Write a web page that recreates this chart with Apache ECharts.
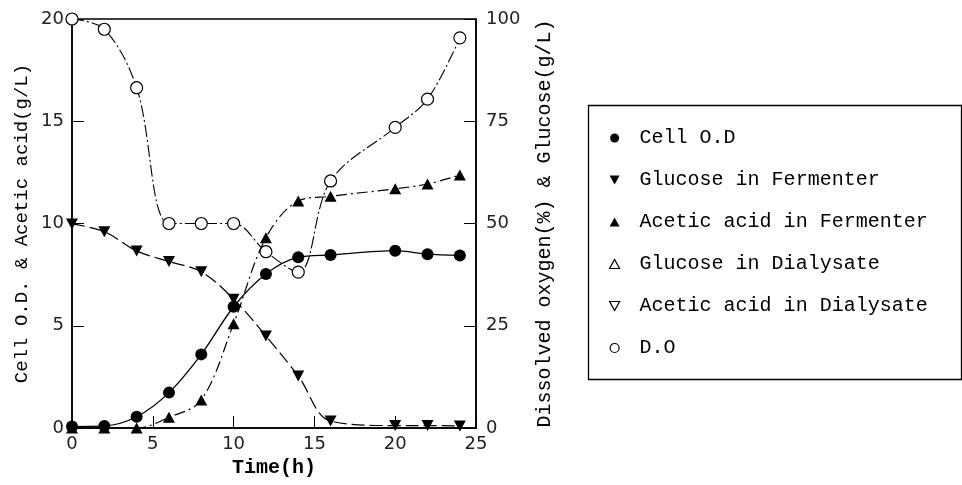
<!DOCTYPE html>
<html>
<head>
<meta charset="utf-8">
<script src="https://cdn.jsdelivr.net/npm/echarts@6/dist/echarts.min.js"></script>
<style>
  html, body { margin: 0; padding: 0; background: #fff; }
  #chart { width: 962px; height: 485px; }
</style>
</head>
<body>
<div id="chart"></div>
<script>
// 时间 (h)
var timeH = [0, 2, 4, 6, 8, 10, 12, 14, 16, 20, 22, 24];
// Cell O.D  (左轴)
var cellOD = [0.07, 0.1, 0.55, 1.73, 3.6, 5.93, 7.53, 8.35, 8.46, 8.67, 8.5, 8.44];
// Glucose in Fermenter g/L (右轴)
var glucoseF = [49.9, 48, 43.3, 40.7, 38.2, 31.5, 22.5, 12.7, 1.7, 0.6, 0.6, 0.5];
// Acetic acid in Fermenter g/L (左轴)
var aceticF = [0, 0, 0, 0.52, 1.37, 5.1, 9.3, 11.1, 11.33, 11.7, 11.93, 12.37];
// D.O % (右轴)
var dissolvedO = [100, 97.5, 83.2, 50, 50, 50, 43.1, 38.1, 60.4, 73.5, 80.4, 95.4];
// 图例名称
var names = ['Cell O.D', 'Glucose in Fermenter', 'Acetic acid in Fermenter',
             'Glucose in Dialysate', 'Acetic acid in Dialysate', 'D.O'];

function pairs(ys) {
  var out = [];
  for (var i = 0; i < timeH.length; i++) out.push([timeH[i], ys[i]]);
  return out;
}

var downTri = 'path://M0,0 L10,0 L5,9 Z';
var upTri = 'path://M5,0 L10,9 L0,9 Z';
var typeFont = '"Liberation Mono", "DejaVu Serif", monospace'; // 打字机风格
var tickFont = '"DejaVu Sans", "Liberation Sans", sans-serif';

var dom = document.getElementById('chart');
var myChart = echarts.init(dom, null, { renderer: 'canvas' });

var option = {
  backgroundColor: '#fff',
  animation: false,
  grid: {
    left: 72, right: 486, top: 19, bottom: 57,
    show: true, borderColor: '#000', borderWidth: 1.5
  },
  xAxis: {
    type: 'value', min: 0, max: 25, interval: 5,
    name: 'Time(h)', nameLocation: 'middle', nameGap: 29,
    nameTextStyle: { fontFamily: typeFont, fontWeight: 'bold', fontSize: 20, color: '#000' },
    axisLine: { lineStyle: { color: '#000', width: 1.5 } },
    axisTick: { inside: true, length: 12, lineStyle: { color: '#000' } },
    axisLabel: { fontFamily: tickFont, fontSize: 18, color: '#222', margin: 7 },
    splitLine: { show: false }
  },
  yAxis: [
    {
      type: 'value', min: 0, max: 20, interval: 5,
      name: 'Cell O.D. & Acetic acid(g/L)', nameLocation: 'middle', nameGap: 41,
      nameTextStyle: { fontFamily: typeFont, fontSize: 19, color: '#000' },
      axisLine: { show: true, lineStyle: { color: '#000', width: 1.5 } },
      axisTick: { show: true, inside: true, length: 12, lineStyle: { color: '#000' } },
      axisLabel: { fontFamily: tickFont, fontSize: 18, color: '#222', margin: 8 },
      splitLine: { show: false }
    },
    {
      type: 'value', min: 0, max: 100, interval: 25,
      name: 'Dissolved oxygen(%) & Glucose(g/L)', nameLocation: 'middle', nameGap: 59,
      nameRotate: 90,
      nameTextStyle: { fontFamily: typeFont, fontSize: 20, color: '#000' },
      axisLine: { show: true, lineStyle: { color: '#000', width: 1.5 } },
      axisTick: { show: true, inside: true, length: 12, lineStyle: { color: '#000' } },
      axisLabel: { fontFamily: tickFont, fontSize: 18, color: '#222', margin: 10 },
      splitLine: { show: false }
    }
  ],
  legend: {
    orient: 'vertical', left: 604, top: 123,
    itemWidth: 30, itemHeight: 9, itemGap: 22,
    textStyle: { fontFamily: typeFont, fontSize: 20, color: '#000', lineHeight: 20, padding: [0, 0, 0, 5] },
    data: [
      { name: names[0], icon: 'circle' },
      { name: names[1], icon: downTri },
      { name: names[2], icon: upTri },
      { name: names[3], icon: upTri, itemStyle: { color: '#fff', borderColor: '#000', borderWidth: 1.2 } },
      { name: names[4], icon: downTri, itemStyle: { color: '#fff', borderColor: '#000', borderWidth: 1.2 } },
      { name: names[5], icon: 'circle', itemStyle: { color: '#fff', borderColor: '#000', borderWidth: 1.2 } }
    ]
  },
  graphic: [
    {
      type: 'rect', left: 586, top: 103,
      shape: { width: 373, height: 274 },
      style: { fill: 'none', stroke: '#000', lineWidth: 1.3 },
      silent: true
    }
  ],
  series: [
    {
      name: names[5], type: 'line', yAxisIndex: 1, data: pairs(dissolvedO),
      smooth: 0.35, symbol: 'circle', symbolSize: 12,
      itemStyle: { color: '#fff', borderColor: '#000', borderWidth: 1.2 },
      lineStyle: { color: '#000', width: 1.1, type: [12, 3, 2, 3] },
      z: 2
    },
    {
      name: names[1], type: 'line', yAxisIndex: 1, data: pairs(glucoseF),
      smooth: 0.35, symbol: downTri, symbolSize: [12, 11],
      itemStyle: { color: '#000' },
      lineStyle: { color: '#000', width: 1.2, type: [13, 5] },
      z: 3
    },
    {
      name: names[2], type: 'line', yAxisIndex: 0, data: pairs(aceticF),
      smooth: 0.35, symbol: upTri, symbolSize: [12, 11],
      itemStyle: { color: '#000' },
      lineStyle: { color: '#000', width: 1.2, type: [11, 4, 2, 4] },
      z: 3
    },
    {
      name: names[0], type: 'line', yAxisIndex: 0, data: pairs(cellOD),
      smooth: 0.3, symbol: 'circle', symbolSize: 12,
      itemStyle: { color: '#000' },
      lineStyle: { color: '#000', width: 1.3 },
      z: 4
    },
    {
      name: names[3], type: 'line', yAxisIndex: 1, data: [],
      itemStyle: { color: '#fff', borderColor: '#000' }
    },
    {
      name: names[4], type: 'line', yAxisIndex: 0, data: [],
      itemStyle: { color: '#fff', borderColor: '#000' }
    }
  ]
};

myChart.setOption(option, true);
</script>
</body>
</html>
